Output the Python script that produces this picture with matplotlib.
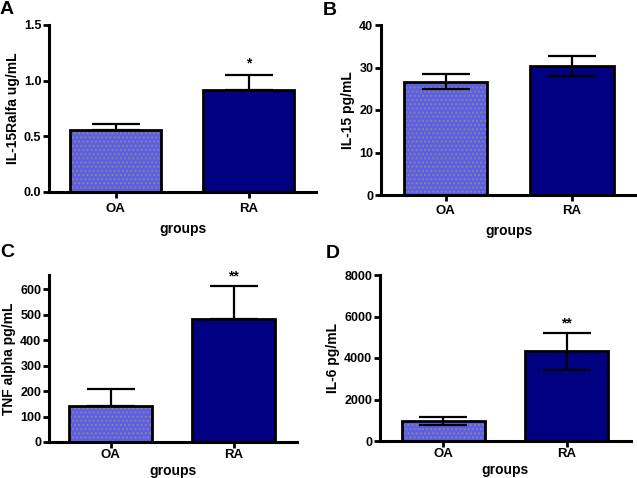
import matplotlib
matplotlib.use("Agg")
import matplotlib.pyplot as plt

plt.rcParams["font.family"] = ["Liberation Sans", "DejaVu Sans"]
plt.rcParams["font.weight"] = "bold"
plt.rcParams["hatch.linewidth"] = 1.0

groups = ["OA", "RA"]

# panel A: IL-15Ralfa
il15ra_mean = [0.56, 0.92]
il15ra_err = [0.05, 0.13]
# panel B: IL-15
il15_mean = [26.7, 30.4]
il15_err = [1.7, 2.4]
# panel C: TNF alpha
tnf_mean = [142, 482]
tnf_err = [65, 128]
# panel D: IL-6
il6_mean = [960, 4320]
il6_err = [180, 900]

panels = [
    dict(letter="A", ylabel="IL-15Ralfa ug/mL", mean=il15ra_mean, err=il15ra_err, both=False,
         ylim=(0, 1.5), yticks=[0, 0.5, 1.0, 1.5], ytl=["0.0", "0.5", "1.0", "1.5"],
         star="*", star_y=1.15, xpad=4, labelpad=5,
         rect=[49/637, 1 - 192/478, 267/637, 167/478], xlim=(-0.5, 1.507), width=0.68),
    dict(letter="B", ylabel="IL-15 pg/mL", mean=il15_mean, err=il15_err, both=True,
         ylim=(0, 40), yticks=[0, 10, 20, 30, 40], ytl=["0", "10", "20", "30", "40"],
         star=None, star_y=None, xpad=3, labelpad=5,
         rect=[381/637, 1 - 195/478, 255/637, 170/478], xlim=(-0.51, 1.506), width=0.66),
    dict(letter="C", ylabel="TNF alpha pg/mL", mean=tnf_mean, err=tnf_err, both=False,
         ylim=(0, 655), yticks=[0, 100, 200, 300, 400, 500, 600],
         ytl=["0", "100", "200", "300", "400", "500", "600"],
         star="**", star_y=650, xpad=1, labelpad=2,
         rect=[49/637, 1 - 442/478, 248/637, 167/478], xlim=(-0.5, 1.516), width=0.675),
    dict(letter="D", ylabel="IL-6 pg/mL", mean=il6_mean, err=il6_err, both=True,
         ylim=(0, 8000), yticks=[0, 2000, 4000, 6000, 8000],
         ytl=["0", "2000", "4000", "6000", "8000"],
         star="**", star_y=5650, xpad=1, labelpad=2,
         rect=[380/637, 1 - 441/478, 251/637, 166/478], xlim=(-0.516, 1.524), width=0.675),
]

letter_pos = {"A": (0.0, 0.997), "B": (0.507, 0.995), "C": (0.0, 0.490), "D": (0.512, 0.487)}

fig = plt.figure(figsize=(6.37, 4.78), dpi=100)

for p in panels:
    ax = fig.add_axes(p["rect"])
    x = [0, 1]
    # OA bar: dotted light blue; RA bar: solid navy
    ax.bar(x[0], p["mean"][0], width=p["width"], color="#5a5cf2", edgecolor="#8a8a6a",
           hatch="....", linewidth=0, zorder=2)
    ax.bar(x[1], p["mean"][1], width=p["width"], color="#010080", linewidth=0, zorder=2)
    ax.bar(x, p["mean"], width=p["width"], facecolor="none", edgecolor="black",
           linewidth=2.0, zorder=3)
    if p["both"]:
        yerr = [p["err"], p["err"]]
    else:
        yerr = [[0, 0], p["err"]]
    ax.errorbar(x, p["mean"], yerr=yerr, fmt="none", ecolor="black",
                elinewidth=1.6, capsize=17, capthick=1.6, zorder=4)
    if p["star"]:
        ax.text(1, p["star_y"], p["star"], ha="center", va="center", fontsize=10,
                fontweight="bold", clip_on=False)

    ax.set_xlim(*p["xlim"])
    ax.set_ylim(*p["ylim"])
    ax.set_xticks(x)
    ax.set_xticklabels(groups, fontsize=9.5, fontweight="bold")
    ax.set_yticks(p["yticks"])
    ax.set_yticklabels(p["ytl"], fontsize=9, fontweight="bold")
    ax.set_xlabel("groups", fontsize=10, fontweight="bold", labelpad=p["labelpad"])
    ax.set_ylabel(p["ylabel"], fontsize=10, fontweight="bold", labelpad=3)
    ax.spines["top"].set_visible(False)
    ax.spines["right"].set_visible(False)
    for s in ("left", "bottom"):
        ax.spines[s].set_linewidth(2.2)
    ax.tick_params(axis="both", width=2.0, length=4, direction="out")
    ax.tick_params(axis="x", pad=p["xpad"])
    ax.tick_params(axis="y", pad=1.5)

    lx, ly = letter_pos[p["letter"]]
    fig.text(lx, ly, p["letter"], fontsize=14, fontweight="bold", ha="left", va="top")

fig.savefig("out.png", dpi=100)
